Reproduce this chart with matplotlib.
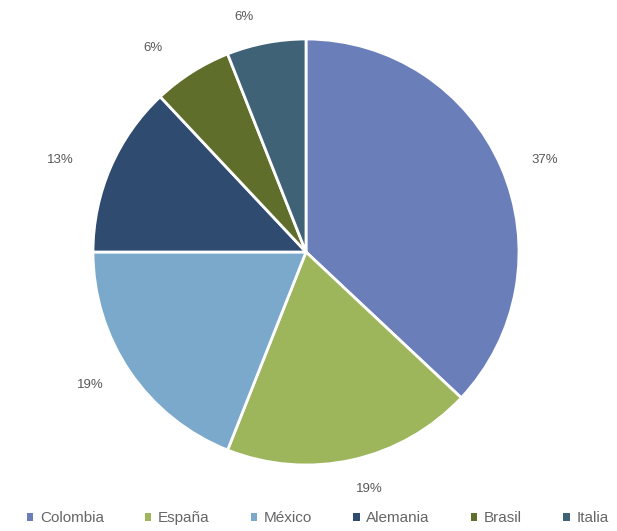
import matplotlib
matplotlib.use("Agg")
import numpy as np
import matplotlib.pyplot as plt
from matplotlib.patches import Patch

categories = ["Colombia", "España", "México", "Alemania", "Brasil", "Italia"]
values = [37, 19, 19, 13, 6, 6]
labels_pct = ["37%", "19%", "19%", "13%", "6%", "6%"]
colors = ["#6A7FBA", "#9DB65C", "#7BA9CC", "#2F4B70", "#5F6E2B", "#3F6276"]
# label placement tweaks (distance in radii, angle nudge in degrees)
label_dist = [1.20, 1.15, 1.19, 1.23, 1.20, 1.14]
label_nudge = [-2.4, 2.4, -2.6, 2.9, 4.5, 4.0]

plt.rcParams['font.family'] = ['Liberation Sans', 'DejaVu Sans']

fig = plt.figure(figsize=(6.17, 5.31), dpi=100)
W, H = 617, 531
cx, cy, R = 306, 531 - 252, 213
lim = 1.3
side = R * lim * 2
ax = fig.add_axes([(cx - side / 2) / W, (cy - side / 2) / H, side / W, side / H])

wedges, _ = ax.pie(values, colors=colors, startangle=90, counterclock=False,
                   wedgeprops=dict(edgecolor="white", linewidth=2))
for w, lab, d, nd in zip(wedges, labels_pct, label_dist, label_nudge):
    ang = np.deg2rad((w.theta1 + w.theta2) / 2 + nd)
    ax.text(d * np.cos(ang), d * np.sin(ang), lab, ha="center", va="center",
            color="#595959", fontsize=9.5)
ax.set_xlim(-lim, lim)
ax.set_ylim(-lim, lim)
ax.set_aspect("equal")
ax.axis("off")

handles = [Patch(facecolor=c, edgecolor="none") for c in colors]
fig.legend(handles, categories, loc="lower center", bbox_to_anchor=(0.515, -0.015),
           ncol=6, frameon=False, fontsize=11, handlelength=0.4, handleheight=0.4,
           handletextpad=0.45, columnspacing=2.7, labelcolor="#666666")

fig.savefig("out.png", dpi=100, facecolor="white")
